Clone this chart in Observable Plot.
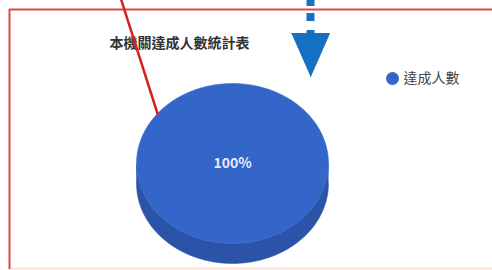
<!DOCTYPE html>
<html><head><meta charset="utf-8">
<script src="https://cdn.jsdelivr.net/npm/d3@7"></script>
<script src="https://cdn.jsdelivr.net/npm/@observablehq/plot@0.6"></script>
<style>body{margin:0;background:#fff}</style>
</head><body><div id="chart"></div>
<script>
// ---- data ----
const title = "本機關達成人數統計表";
const categories = ["達成人數"];
const values = [100];
const colors = ["#3465c8"];
const sideColors = ["#2b53a8"];

// ---- layout ----
const W = 492, H = 270;
const P = {cx: 232, cy: 163, rx: 96, ry: 80, depth: 20};
const font = "'Noto Sans CJK TC','Noto Sans CJK SC',sans-serif";

const total = d3.sum(values);
const arcs = d3.pie().sort(null)(values);
const N = 240;
const ell = (t, dy = 0) => ({x: P.cx + P.rx * Math.sin(t), y: P.cy - P.ry * Math.cos(t) + dy});

const topPolys = arcs.map((a, i) => {
  const pts = [];
  const full = a.endAngle - a.startAngle > 2 * Math.PI - 1e-6;
  if (!full) pts.push({x: P.cx, y: P.cy});
  for (let j = 0; j <= N; j++) pts.push(ell(a.startAngle + (a.endAngle - a.startAngle) * j / N));
  return pts;
});
const sidePolys = arcs.map((a) => {
  const s = Math.max(a.startAngle, Math.PI / 2), e = Math.min(a.endAngle, 3 * Math.PI / 2);
  if (e <= s) return [];
  const pts = [];
  for (let j = 0; j <= N; j++) pts.push(ell(s + (e - s) * j / N));
  for (let j = N; j >= 0; j--) pts.push(ell(s + (e - s) * j / N, P.depth));
  return pts;
});
const labels = arcs.map((a, i) => {
  const full = a.endAngle - a.startAngle > 2 * Math.PI - 1e-6;
  const m = (a.startAngle + a.endAngle) / 2;
  const p = full ? {x: P.cx, y: P.cy} : {x: P.cx + 0.6 * P.rx * Math.sin(m), y: P.cy - 0.6 * P.ry * Math.cos(m)};
  return {...p, text: Math.round(values[i] / total * 100) + "%"};
});

// annotations (screenshot decorations)
const frameTop = [{y: 9, x1: 9, x2: 496}];
const frameLeft = [{x: 9, y1: 9, y2: 269}];
const frameBottom = [{y: 268, x1: 9, x2: 496}];
const redLine = [{x: 120, y: -3}, {x: 157, y: 113}];
const arrowShaft = [{x: 310, y1: 0, y2: 34}];
const arrowHead = [{x: 291, y: 33}, {x: 329, y: 33}, {x: 310, y: 76}];

const chart = Plot.plot({
  width: W, height: H, margin: 0,
  style: {background: "#fff", fontFamily: font},
  x: {domain: [0, W], range: [0, W], axis: null},
  y: {domain: [0, H], range: [0, H], axis: null},
  marks: [
    Plot.ruleX(arrowShaft, {x: "x", y1: "y1", y2: "y2", stroke: "#1670c2", strokeWidth: 8, strokeDasharray: "6,7,8,9,6"}),
    Plot.line(arrowHead, {x: "x", y: "y", fill: "#1670c2", stroke: "#1670c2", strokeWidth: 1}),
    Plot.ruleY(frameBottom, {y: "y", x1: "x1", x2: "x2", stroke: "#fbe3dc", strokeWidth: 2}),
    Plot.ruleY(frameTop, {y: "y", x1: "x1", x2: "x2", stroke: "#e04848", strokeWidth: 2}),
    Plot.ruleX(frameLeft, {x: "x", y1: "y1", y2: "y2", stroke: "#e04848", strokeWidth: 2}),
    ...sidePolys.map((pts, i) => Plot.line(pts, {x: "x", y: "y", fill: sideColors[i], stroke: sideColors[i], strokeWidth: 0.5})),
    ...topPolys.map((pts, i) => Plot.line(pts, {x: "x", y: "y", fill: colors[i], stroke: colors[i], strokeWidth: 0.5})),
    Plot.text(labels, {x: "x", y: "y", text: "text", fill: "#e6ecfa", fontSize: 14, fontWeight: "bold", fontFamily: font}),
    Plot.text([title], {x: () => 179, y: () => 43, text: d => d, fill: "#333", fontSize: 14, fontWeight: "bold", fontFamily: font}),
    Plot.dot(categories, {x: () => 392, y: (d, i) => 78 + i * 20, r: 6.5, fill: (d, i) => colors[i], stroke: null}),
    Plot.text(categories, {x: () => 403, y: (d, i) => 78 + i * 20, text: d => d, textAnchor: "start", fill: "#444", fontSize: 14, fontFamily: font}),
    Plot.line(redLine, {x: "x", y: "y", stroke: "#d42222", strokeWidth: 2.5})
  ]
});
document.getElementById("chart").append(chart);
</script>
</body></html>
